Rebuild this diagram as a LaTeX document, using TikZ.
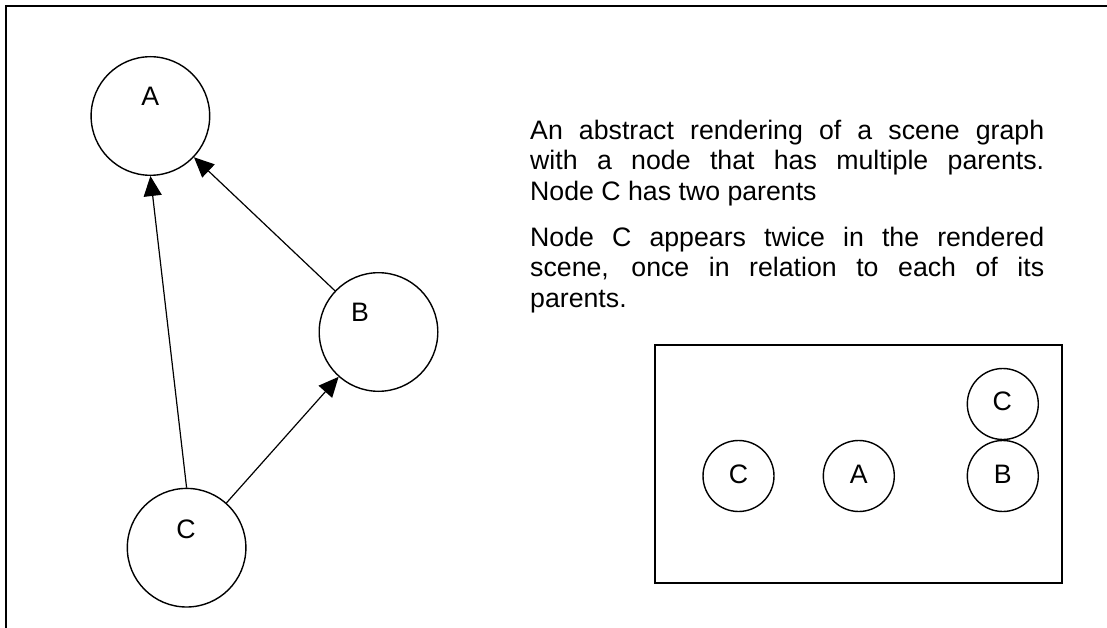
\documentclass[tikz,border=0pt]{standalone}
\usepackage{fontspec}
\setmainfont{Liberation Sans}
\usetikzlibrary{arrows.meta}
\tikzset{
  bigc/.style={circle, draw, line width=1.4pt, minimum size=118.6pt, inner sep=0pt},
  smallc/.style={circle, draw, line width=1.4pt, minimum size=71pt, inner sep=0pt},
  lbl/.style={font=\fontsize{26.7pt}{30.7pt}\selectfont, inner sep=0pt, anchor=base},
  txt/.style={font=\fontsize{26.7pt}{30.7pt}\selectfont, inner sep=0pt, anchor=base west},
  edgearrow/.style={line width=1.2pt, -{Triangle[length=20pt,width=18pt]}},
  framestyle/.style={line width=2pt, line join=miter}
}
\newcommand{\jline}[1]{\makebox[514pt][s]{#1}}
\begin{document}
\begin{tikzpicture}[x=1pt,y=-1pt]
\useasboundingbox[fill=white] (0,0) rectangle (1107,628);
% outer frame (clipped by the image edges)
\coordinate (fbl) at (5.5,628);
\coordinate (ftl) at (5.5,6.5);
\coordinate (ftr) at (1107,6.5);
\draw[framestyle] (fbl) -- (ftl) -- (ftr);

% scene graph
\node[bigc] (A) at (150.4,116) {};
\node[bigc] (B) at (378.5,332) {};
\node[bigc] (C) at (186.6,547.7) {};
\node[lbl] (Alab) at (150.4,106) {A};
\node[lbl] (Blab) at (360,321.7) {B};
\node[lbl] (Clab) at (186,538) {C};
\draw[edgearrow] (C.north) -- (A.south);
\draw[edgearrow] (B) -- (A);
\draw[edgearrow] (C) -- (B);

% description
\node[txt] (t1) at (530,139.5) {\jline{An abstract rendering of a scene graph}};
\node[txt] (t2) at (530,170) {\jline{with a node that has multiple parents.}};
\node[txt] (t3) at (530,200.5) {Node C has two parents};
\node[txt] (t4) at (530,246) {\jline{Node C appears twice in the rendered}};
\node[txt] (t5) at (530,276.5) {\jline{scene, once in relation to each of its}};
\node[txt] (t6) at (530,307) {parents.};

% rendered scene
\node[draw, line width=2pt, minimum width=407pt, minimum height=238.6pt, inner sep=0pt] (scene) at (858.8,464) {};
\node[smallc] (sc1) at (738.5,476) {};
\node[smallc] (sa) at (858.8,476) {};
\node[smallc] (sb) at (1002.8,476) {};
\node[smallc] (sc2) at (1002.8,404) {};
\node[lbl] (sc1lab) at (738.5,483) {C};
\node[lbl] (salab) at (858.8,483) {A};
\node[lbl] (sblab) at (1002.8,483) {B};
\node[lbl] (sc2lab) at (1002.3,410.7) {C};
\end{tikzpicture}
\end{document}
